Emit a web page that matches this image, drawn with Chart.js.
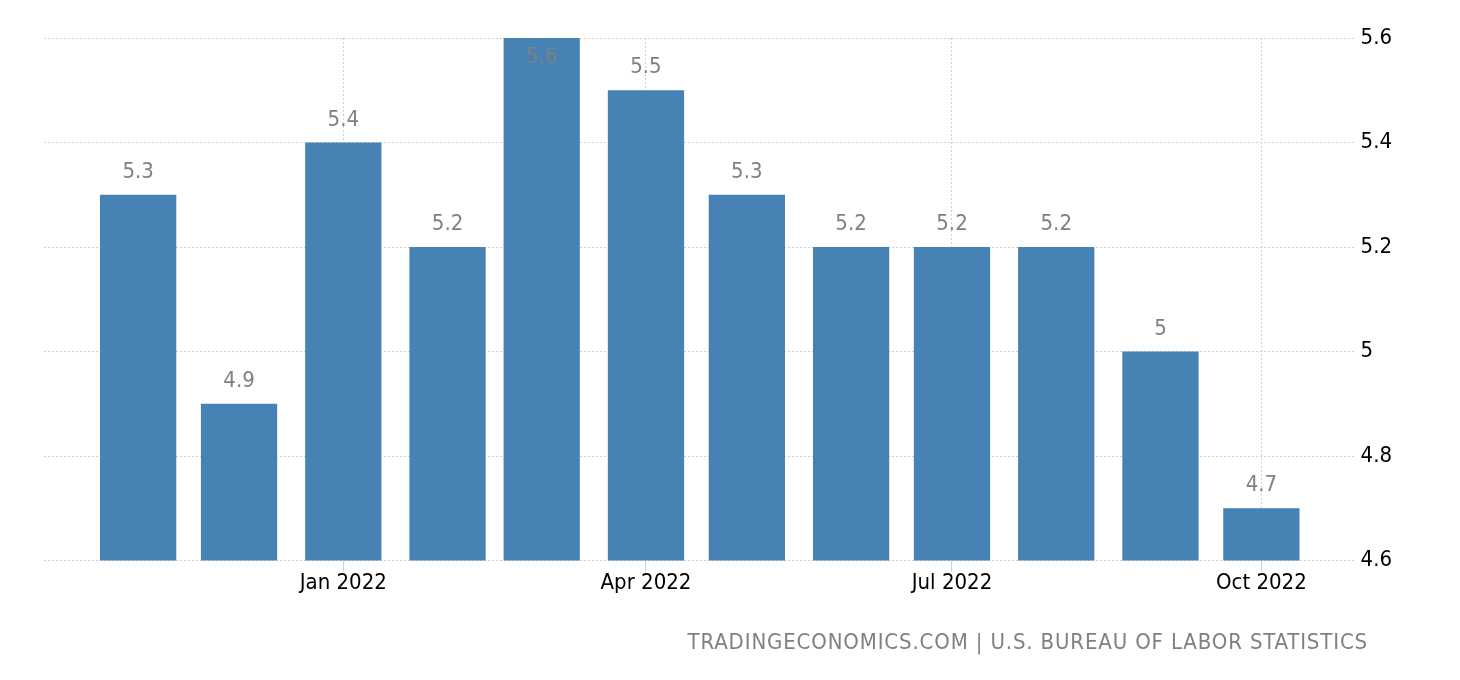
<!DOCTYPE html>
<html>
<head>
<meta charset="utf-8">
<script src="https://cdn.jsdelivr.net/npm/chart.js@4.4.1/dist/chart.umd.min.js"></script>
<style>
  body { margin: 0; background: #fff; }
  #wrap { position: relative; width: 1460px; height: 680px; }
  #source {
    position: absolute; right: 92px; top: 629px;
    font: 22px "DejaVu Sans Condensed", "DejaVu Sans", sans-serif;
    letter-spacing: 0.85px;
    color: #808080; line-height: 26px; white-space: nowrap;
  }
</style>
</head>
<body>
<div id="wrap">
  <canvas id="chart"></canvas>
  <div id="source">TRADINGECONOMICS.COM | U.S. BUREAU OF LABOR STATISTICS</div>
</div>
<script>
// DATA
const months = ["2021-11", "2021-12", "2022-01", "2022-02", "2022-03", "2022-04",
                "2022-05", "2022-06", "2022-07", "2022-08", "2022-09", "2022-10"];
const values = [5.3, 4.9, 5.4, 5.2, 5.6, 5.5, 5.3, 5.2, 5.2, 5.2, 5.0, 4.7];
const tickMonths = ["2022-01", "2022-04", "2022-07", "2022-10"];
const tickLabels = ["Jan 2022", "Apr 2022", "Jul 2022", "Oct 2022"];
const yTicks = [4.6, 4.8, 5, 5.2, 5.4, 5.6];

const FONT = '"DejaVu Sans Condensed", "DejaVu Sans", sans-serif';

// month string -> day number
function toDay(m) {
  const [y, mo] = m.split("-").map(Number);
  return Date.UTC(y, mo - 1, 1) / 86400000;
}

const points = months.map((m, i) => ({ x: toDay(m), y: values[i] }));

// VALUE LABELS ABOVE BARS
const valueLabels = {
  id: "valueLabels",
  afterDatasetsDraw(chart) {
    const ctx = chart.ctx;
    const top = chart.chartArea.top;
    ctx.save();
    ctx.font = "22px " + FONT;
    ctx.fillStyle = "#808080";
    ctx.textAlign = "center";
    ctx.textBaseline = "alphabetic";
    chart.getDatasetMeta(0).data.forEach((bar, i) => {
      ctx.fillText(String(values[i]), bar.x, Math.max(bar.y - 17, top + 25));
    });
    ctx.restore();
  }
};

new Chart(document.getElementById("chart"), {
  type: "bar",
  data: {
    datasets: [{
      data: points,
      backgroundColor: "#4682b4",
      barPercentage: 0.81,
      categoryPercentage: 1
    }]
  },
  options: {
    responsive: true,
    maintainAspectRatio: false,
    animation: false,
    layout: { padding: { top: 38, left: 44, right: 63, bottom: 86 } },
    plugins: { legend: { display: false }, tooltip: { enabled: false } },
    scales: {
      x: {
        type: "linear",
        offset: false,
        min: toDay(months[0]) - 28,
        max: toDay(months[months.length - 1]) + 28,
        afterBuildTicks: s => { s.ticks = tickMonths.map(m => ({ value: toDay(m) })); },
        grid: {
          offset: false,
          color: "#d0d0d0",
          tickLength: 11,
          tickColor: "#d0d0d0"
        },
        border: { display: false, dash: [2, 2] },
        ticks: {
          color: "#000",
          font: { size: 22, family: FONT },
          padding: -2,
          maxRotation: 0,
          autoSkip: false,
          callback: (v, i) => tickLabels[i]
        }
      },
      y: {
        position: "right",
        min: 4.6,
        max: 5.6,
        afterBuildTicks: s => { s.ticks = yTicks.map(v => ({ value: v })); },
        grid: { color: "#d0d0d0", drawTicks: false },
        border: { display: false, dash: [2, 2] },
        ticks: {
          color: "#000",
          font: { size: 22, family: FONT },
          padding: 5,
          crossAlign: "near",
          callback: v => String(v)
        }
      }
    }
  },
  plugins: [valueLabels]
});
</script>
</body>
</html>
